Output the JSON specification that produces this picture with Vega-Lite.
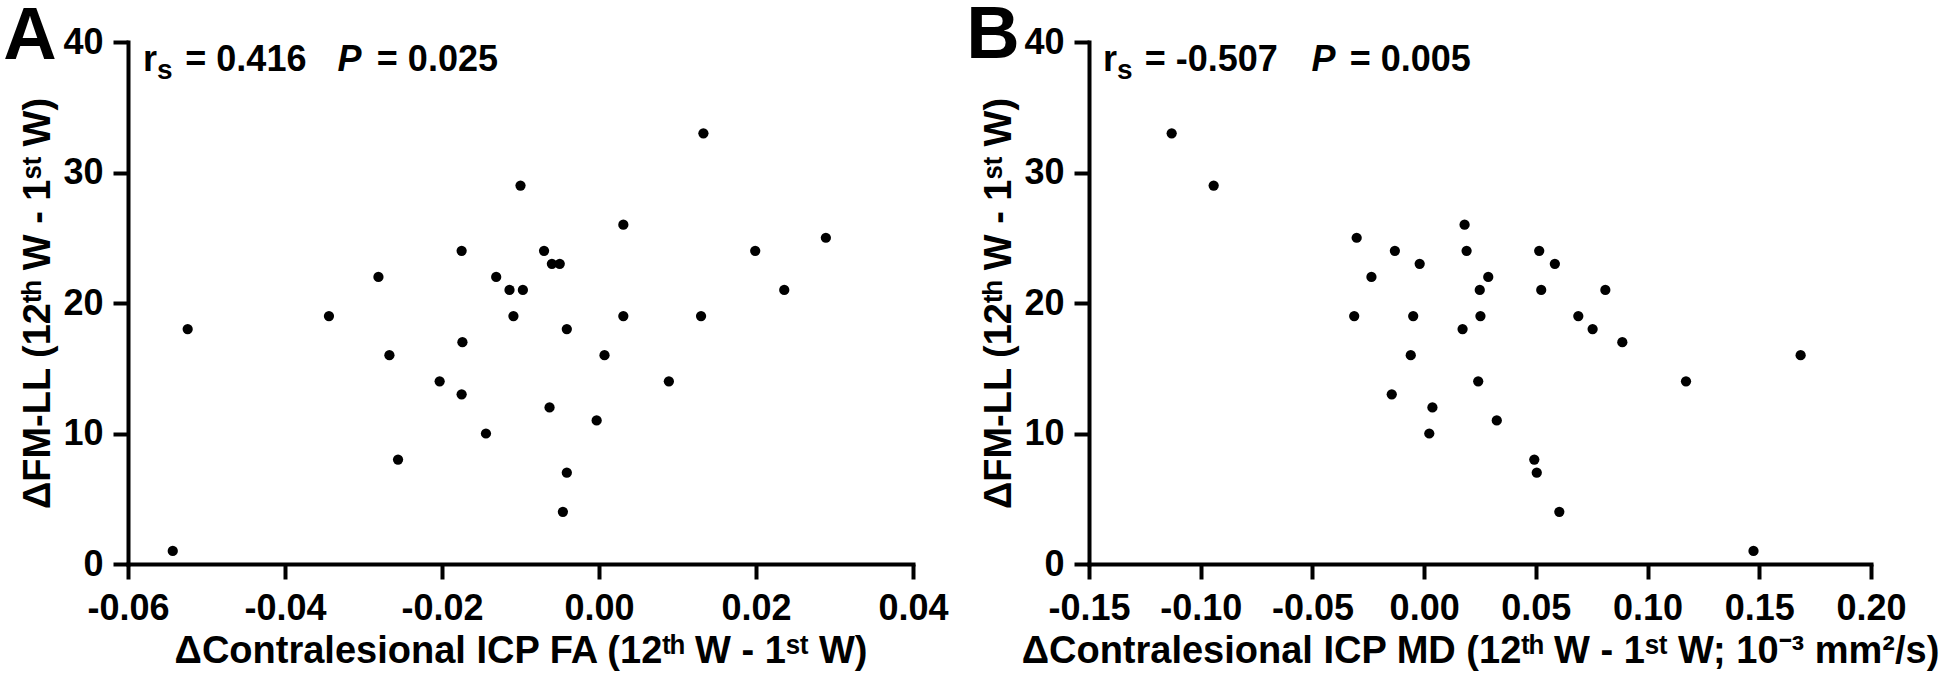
{
  "$schema": "https://vega.github.io/schema/vega-lite/v6.json",
  "background": "white",
  "padding": {"left": 3, "top": -2, "right": 5, "bottom": 5},
  "spacing": 17,
  "config": {
    "view": {"stroke": null},
    "font": "Liberation Sans",
    "axis": {
      "domainColor": "black", "domainWidth": 4, "domainCap": "square",
      "tickColor": "black", "tickWidth": 4, "tickSize": 15,
      "labelFont": "Liberation Sans", "labelFontSize": 36, "labelFontWeight": "bold", "labelColor": "black",
      "titleFont": "Liberation Sans", "titleFontSize": 38, "titleFontWeight": "bold", "titleColor": "black",
      "grid": false, "labelFlush": false, "labelOverlap": false, "labelPadding": 10
    },
    "axisX": {"titlePadding": 6, "labelPadding": 12},
    "axisY": {"titlePadding": 5}
  },
  "hconcat": [
    {
      "width": 785, "height": 522,
      "layer": [
        {
          "data": {"values": [
            {"fa": -0.0543, "fm": 1}, {"fa": -0.0524, "fm": 18}, {"fa": -0.0344, "fm": 19},
            {"fa": -0.0281, "fm": 22}, {"fa": -0.0267, "fm": 16}, {"fa": -0.0256, "fm": 8},
            {"fa": -0.0203, "fm": 14}, {"fa": -0.0175, "fm": 24}, {"fa": -0.0174, "fm": 17},
            {"fa": -0.0175, "fm": 13}, {"fa": -0.0144, "fm": 10}, {"fa": -0.0131, "fm": 22},
            {"fa": -0.0114, "fm": 21}, {"fa": -0.0109, "fm": 19}, {"fa": -0.0097, "fm": 21},
            {"fa": -0.0100, "fm": 29}, {"fa": -0.0070, "fm": 24}, {"fa": -0.0060, "fm": 23},
            {"fa": -0.0050, "fm": 23}, {"fa": -0.0041, "fm": 18}, {"fa": -0.0063, "fm": 12},
            {"fa": -0.0041, "fm": 7}, {"fa": -0.0046, "fm": 4}, {"fa": 0.0007, "fm": 16},
            {"fa": -0.0003, "fm": 11}, {"fa": 0.0031, "fm": 26}, {"fa": 0.0031, "fm": 19},
            {"fa": 0.0089, "fm": 14}, {"fa": 0.0133, "fm": 33}, {"fa": 0.0130, "fm": 19},
            {"fa": 0.0199, "fm": 24}, {"fa": 0.0236, "fm": 21}, {"fa": 0.0289, "fm": 25}
          ]},
          "mark": {"type": "point", "filled": true, "size": 105, "color": "black", "opacity": 1},
          "encoding": {
            "x": {"field": "fa", "type": "quantitative",
                  "scale": {"domain": [-0.06, 0.04], "nice": false, "zero": false},
                  "axis": {"values": [-0.06, -0.04, -0.02, 0, 0.02, 0.04],
                           "labelExpr": "replace(format(datum.value, '.2f'), '\u2212', '-')",
                           "title": "\u0394Contralesional ICP FA (12\u1d57\u02b0 W - 1\u02e2\u1d57 W)"}},
            "y": {"field": "fm", "type": "quantitative",
                  "scale": {"domain": [0, 40], "nice": false},
                  "axis": {"values": [0, 10, 20, 30, 40],
                           "title": "\u0394FM-LL (12\u1d57\u02b0 W - 1\u02e2\u1d57 W)"}}
          }
        },
        {"data": {"values": [{}]},
         "mark": {"type": "text", "text": "A", "fontSize": 74, "fontWeight": "bold", "align": "left", "baseline": "alphabetic", "color": "black"},
         "encoding": {"x": {"datum": -0.0759}, "y": {"datum": 38.7}}},
        {"data": {"values": [{}]},
         "mark": {"type": "text", "text": "r", "fontSize": 36, "fontWeight": "bold", "align": "left", "baseline": "alphabetic", "color": "black"},
         "encoding": {"x": {"datum": -0.0581}, "y": {"datum": 37.8}}},
        {"data": {"values": [{}]},
         "mark": {"type": "text", "text": "s", "fontSize": 28, "fontWeight": "bold", "align": "left", "baseline": "alphabetic", "color": "black"},
         "encoding": {"x": {"datum": -0.0563}, "y": {"datum": 37.2}}},
        {"data": {"values": [{}]},
         "mark": {"type": "text", "text": "= 0.416", "fontSize": 36, "fontWeight": "bold", "align": "left", "baseline": "alphabetic", "color": "black"},
         "encoding": {"x": {"datum": -0.0527}, "y": {"datum": 37.8}}},
        {"data": {"values": [{}]},
         "mark": {"type": "text", "text": "P", "fontSize": 36, "fontWeight": "bold", "fontStyle": "italic", "align": "left", "baseline": "alphabetic", "color": "black"},
         "encoding": {"x": {"datum": -0.0333}, "y": {"datum": 37.8}}},
        {"data": {"values": [{}]},
         "mark": {"type": "text", "text": "= 0.025", "fontSize": 36, "fontWeight": "bold", "align": "left", "baseline": "alphabetic", "color": "black"},
         "encoding": {"x": {"datum": -0.0283}, "y": {"datum": 37.8}}}
      ]
    },
    {
      "width": 782, "height": 522,
      "layer": [
        {
          "data": {"values": [
            {"md": -0.1130, "fm": 33}, {"md": -0.0942, "fm": 29}, {"md": -0.0302, "fm": 25},
            {"md": -0.0236, "fm": 22}, {"md": -0.0313, "fm": 19}, {"md": -0.0131, "fm": 24},
            {"md": -0.0020, "fm": 23}, {"md": -0.0049, "fm": 19}, {"md": -0.0060, "fm": 16},
            {"md": -0.0145, "fm": 13}, {"md": 0.0037, "fm": 12}, {"md": 0.0023, "fm": 10},
            {"md": 0.0181, "fm": 26}, {"md": 0.0190, "fm": 24}, {"md": 0.0287, "fm": 22},
            {"md": 0.0249, "fm": 21}, {"md": 0.0252, "fm": 19}, {"md": 0.0172, "fm": 18},
            {"md": 0.0242, "fm": 14}, {"md": 0.0325, "fm": 11}, {"md": 0.0515, "fm": 24},
            {"md": 0.0585, "fm": 23}, {"md": 0.0524, "fm": 21}, {"md": 0.0811, "fm": 21},
            {"md": 0.0690, "fm": 19}, {"md": 0.0754, "fm": 18}, {"md": 0.0887, "fm": 17},
            {"md": 0.1172, "fm": 14}, {"md": 0.1685, "fm": 16}, {"md": 0.0493, "fm": 8},
            {"md": 0.0504, "fm": 7}, {"md": 0.0605, "fm": 4}, {"md": 0.1474, "fm": 1}
          ]},
          "mark": {"type": "point", "filled": true, "size": 105, "color": "black", "opacity": 1},
          "encoding": {
            "x": {"field": "md", "type": "quantitative",
                  "scale": {"domain": [-0.15, 0.2], "nice": false, "zero": false},
                  "axis": {"values": [-0.15, -0.1, -0.05, 0, 0.05, 0.1, 0.15, 0.2],
                           "labelExpr": "replace(format(datum.value, '.2f'), '\u2212', '-')",
                           "title": "\u0394Contralesional ICP MD (12\u1d57\u02b0 W - 1\u02e2\u1d57 W; 10\u207b\u00b3 mm\u00b2/s)"}},
            "y": {"field": "fm", "type": "quantitative",
                  "scale": {"domain": [0, 40], "nice": false},
                  "axis": {"values": [0, 10, 20, 30, 40],
                           "title": "\u0394FM-LL (12\u1d57\u02b0 W - 1\u02e2\u1d57 W)"}}
          }
        },
        {"data": {"values": [{}]},
         "mark": {"type": "text", "text": "B", "fontSize": 74, "fontWeight": "bold", "align": "left", "baseline": "alphabetic", "color": "black"},
         "encoding": {"x": {"datum": -0.2049}, "y": {"datum": 38.8}}},
        {"data": {"values": [{}]},
         "mark": {"type": "text", "text": "r", "fontSize": 36, "fontWeight": "bold", "align": "left", "baseline": "alphabetic", "color": "black"},
         "encoding": {"x": {"datum": -0.1437}, "y": {"datum": 37.8}}},
        {"data": {"values": [{}]},
         "mark": {"type": "text", "text": "s", "fontSize": 28, "fontWeight": "bold", "align": "left", "baseline": "alphabetic", "color": "black"},
         "encoding": {"x": {"datum": -0.1375}, "y": {"datum": 37.2}}},
        {"data": {"values": [{}]},
         "mark": {"type": "text", "text": "= -0.507", "fontSize": 36, "fontWeight": "bold", "align": "left", "baseline": "alphabetic", "color": "black"},
         "encoding": {"x": {"datum": -0.1251}, "y": {"datum": 37.8}}},
        {"data": {"values": [{}]},
         "mark": {"type": "text", "text": "P", "fontSize": 36, "fontWeight": "bold", "fontStyle": "italic", "align": "left", "baseline": "alphabetic", "color": "black"},
         "encoding": {"x": {"datum": -0.0504}, "y": {"datum": 37.8}}},
        {"data": {"values": [{}]},
         "mark": {"type": "text", "text": "= 0.005", "fontSize": 36, "fontWeight": "bold", "align": "left", "baseline": "alphabetic", "color": "black"},
         "encoding": {"x": {"datum": -0.0333}, "y": {"datum": 37.8}}}
      ]
    }
  ]
}
